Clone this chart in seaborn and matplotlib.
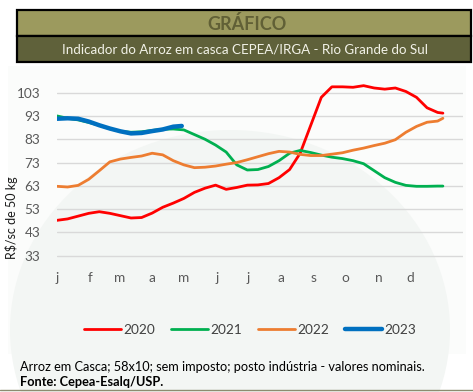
#!/usr/bin/env python3

import numpy as np
import pandas as pd
import matplotlib.pyplot as plt
import seaborn as sns
from matplotlib.patches import Rectangle, Ellipse
from matplotlib.lines import Line2D

# === Data (R$/sc de 50 kg) ===
dias = [0, 10, 20, 30, 40, 50, 60, 70, 80, 90, 100, 110, 120, 130, 140, 150, 160, 170,
        180, 190, 200, 210, 220, 230, 240, 250, 260, 270, 280, 290, 300, 310, 320, 330,
        340, 350, 360, 365]

preco_2020 = [48.2, 48.8, 50.0, 51.2, 51.9, 51.2, 50.2, 49.2, 49.4, 51.3, 53.8, 55.6,
              57.6, 60.2, 62.0, 63.3, 61.5, 62.3, 63.3, 63.4, 64.0, 66.5, 70.0, 77.0,
              89.0, 101.0, 105.5, 105.5, 105.3, 106.0, 105.0, 104.5, 105.0, 103.5, 101.0,
              96.5, 94.5, 94.2]

preco_2021 = [93.0, 92.0, 91.3, 90.2, 89.0, 87.5, 86.4, 86.0, 86.2, 86.8, 87.3, 87.4,
              87.0, 85.0, 83.0, 80.5, 77.5, 72.0, 69.8, 70.0, 71.3, 73.8, 77.0, 78.2,
              77.3, 76.2, 75.3, 74.7, 73.8, 72.5, 69.5, 66.5, 64.5, 63.2, 62.8, 62.8,
              62.9, 62.9]

preco_2022 = [62.8, 62.5, 63.2, 65.8, 69.5, 73.3, 74.5, 75.2, 75.8, 77.0, 76.3, 73.8,
              72.0, 70.8, 71.0, 71.5, 72.3, 73.0, 74.2, 75.5, 76.8, 77.8, 77.5, 76.5,
              76.0, 76.0, 76.6, 77.2, 78.3, 79.2, 80.3, 81.3, 82.8, 86.0, 88.5, 90.3,
              90.8, 92.0]

dias_2023 = [0, 10, 20, 30, 40, 50, 60, 70, 80, 90, 100, 110, 118]
preco_2023 = [91.8, 92.0, 91.8, 90.6, 89.0, 87.6, 86.4, 85.5, 85.7, 86.5, 87.2, 88.4, 88.7]

meses = ["j", "f", "m", "a", "m", "j", "j", "a", "s", "o", "n", "d"]
inicio_mes = [0, 31, 59, 90, 120, 151, 181, 212, 243, 273, 304, 334]
y_ticks = [33, 43, 53, 63, 73, 83, 93, 103]

series = [
    ("2020", dias, preco_2020, "#ff0000", 2.0),
    ("2021", dias, preco_2021, "#00b050", 2.0),
    ("2022", dias, preco_2022, "#ed7d31", 2.0),
    ("2023", dias_2023, preco_2023, "#0070c0", 3.2),
]

# === Style ===
sns.set_theme(style="white")
plt.rcParams["font.family"] = ["Lato", "DejaVu Sans"]

W, H = 473, 392
fig = plt.figure(figsize=(W / 100, H / 100), dpi=100)
fig.patch.set_facecolor("white")

# faint watermark-ish background
bg = fig.add_axes([0, 0, 1, 1], zorder=-5)
bg.set_xlim(0, W)
bg.set_ylim(H, 0)
bg.axis("off")
bg.add_patch(Rectangle((8, 66), 458, 288, facecolor="#fbfcfb", edgecolor="none"))
bg.add_patch(Ellipse((230, 330), 440, 400, facecolor="#f3f6f4", edgecolor="none"))

# header bands
bg.add_patch(Rectangle((17, 10), 454, 26, facecolor="#9c9a5e", edgecolor="black", lw=1.6))
bg.add_patch(Rectangle((17, 36), 454, 26, facecolor="#5f613a", edgecolor="black", lw=1.6))
bg.text(247, 23.5, "GRÁFICO", ha="center", va="center", fontsize=13,
        fontweight="bold", color="#616036")
bg.text(245, 49.5, "Indicador do Arroz em casca CEPEA/IRGA - Rio Grande do Sul",
        ha="center", va="center", fontsize=9.6, color="#f2f2e8")

# footnote
bg.text(20, 367, "Arroz em Casca; 58x10; sem imposto; posto indústria - valores nominais.",
        ha="left", va="center", fontsize=9.2, color="black")
bg.text(20, 382, "Fonte: Cepea-Esalq/USP.", ha="left", va="center", fontsize=9.2,
        fontweight="bold", color="black")
bg.plot([0, W], [390, 390], color="#8c8c70", lw=1)

# === Main axes ===
left, right = 57 / W, 463 / W
top_px, bot_px = 81, 260.4
ax = fig.add_axes([left, 1 - bot_px / H, right - left, (bot_px - top_px) / H])
ax.patch.set_alpha(0)

for ano, x, y, cor, lw in series:
    df = pd.DataFrame({"dia": x, "preco": y})
    sns.lineplot(data=df, x="dia", y="preco", color=cor, lw=lw, ax=ax,
                 solid_capstyle="round")

ax.set_xlim(0, 384)
ax.set_ylim(31, 108)
ax.set_yticks(y_ticks)
ax.set_xticks(inicio_mes)
ax.set_xticklabels(meses)
ax.yaxis.grid(True, color="#d9d9d9", lw=1)
ax.xaxis.grid(False)
for s in ax.spines.values():
    s.set_visible(False)
ax.tick_params(axis="y", length=0, pad=12, labelsize=9.8, labelcolor="#595959")
ax.tick_params(axis="x", length=0, pad=8, labelsize=9.8, labelcolor="#595959")
ax.set_xlabel("")
ax.set_ylabel("")

fig.text(12 / W, 1 - 218 / H, "R$/sc de 50 kg", rotation=90, ha="center",
         va="center", fontsize=9, color="#1a1a1a")

handles = [Line2D([0], [0], color=c, lw=lw) for _, _, _, c, lw in series]
labels = [s[0] for s in series]
fig.legend(handles, labels, loc="center", bbox_to_anchor=(250 / W, 1 - 330 / H),
           ncol=4, frameon=False, fontsize=9.8, handlelength=2.7,
           handletextpad=0.15, columnspacing=1.2, labelcolor="#404040")

fig.savefig("out.png", dpi=100)
